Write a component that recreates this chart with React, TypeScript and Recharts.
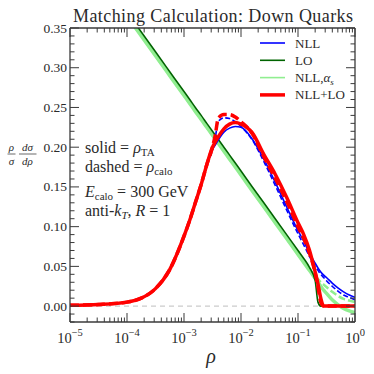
import React from "react";
import { LineChart, Line, XAxis, YAxis, ReferenceLine } from "recharts";

// rho grid (log spaced, denser near the peak and the endpoint)
const rho = [
  0.00001, 0.0000316, 0.0001, 0.000178, 0.000316, 0.000562, 0.001, 0.00126, 0.00158, 0.002,
  0.00251, 0.00316, 0.00355, 0.00398, 0.00501, 0.00631, 0.00794, 0.01, 0.0158, 0.0251,
  0.0398, 0.0631, 0.1, 0.126, 0.158, 0.2, 0.224, 0.251, 0.282, 0.316,
  0.398, 0.501, 0.631, 0.794, 1,
];

const nllSolid = [
  0.001, 0.002, 0.005, 0.01, 0.022, 0.046, 0.088, 0.108, 0.13, 0.153,
  0.177, 0.197, 0.203, 0.209, 0.219, 0.224, 0.226, 0.225, 0.21, 0.185,
  0.156, 0.125, 0.095, 0.082, 0.067, 0.054, 0.048, 0.043, 0.039, 0.036,
  0.029, 0.023, 0.018, 0.014, 0.011,
];
const nllDashed = [
  0.001, 0.002, 0.005, 0.01, 0.022, 0.046, 0.088, 0.108, 0.13, 0.153,
  0.177, 0.197, 0.213, 0.232, 0.237, 0.236, 0.232, 0.226, 0.209, 0.182,
  0.152, 0.121, 0.091, 0.077, 0.063, 0.05, 0.045, 0.04, 0.036, 0.032,
  0.025, 0.019, 0.014, 0.011, 0.008,
];
const loSolid = [
  0.47, 0.42, 0.37, 0.345, 0.32, 0.295, 0.27, 0.26, 0.25, 0.24,
  0.23, 0.22, 0.215, 0.21, 0.2, 0.19, 0.18, 0.17, 0.15, 0.13,
  0.11, 0.09, 0.07, 0.06, 0.049, 0.032, 0.005, 0, 0, 0,
  0, 0, 0, 0, 0,
];
const nllAsSolid = [
  0.465, 0.415, 0.365, 0.34, 0.315, 0.29, 0.265, 0.255, 0.245, 0.235,
  0.225, 0.215, 0.21, 0.205, 0.195, 0.185, 0.175, 0.165, 0.145, 0.125,
  0.105, 0.085, 0.065, 0.055, 0.045, 0.035, 0.03, 0.025, 0.02, 0.016,
  0.008, 0.002, -0.003, -0.006, -0.008,
];
const nllAsDashed = [
  0.465, 0.415, 0.365, 0.34, 0.315, 0.29, 0.265, 0.255, 0.245, 0.235,
  0.225, 0.215, 0.21, 0.205, 0.195, 0.185, 0.175, 0.165, 0.145, 0.125,
  0.105, 0.085, 0.065, 0.055, 0.046, 0.038, 0.034, 0.03, 0.027, 0.024,
  0.018, 0.013, 0.009, 0.007, 0.005,
];
const matchedSolid = [
  0.001, 0.002, 0.005, 0.01, 0.022, 0.046, 0.088, 0.108, 0.13, 0.153,
  0.178, 0.2, 0.207, 0.213, 0.223, 0.229, 0.231, 0.229, 0.218, 0.191,
  0.166, 0.137, 0.105, 0.09, 0.071, 0.043, 0.028, 0.01, 0, 0,
  0, 0, 0, 0, 0,
];
const matchedDashed = [
  0.001, 0.002, 0.005, 0.01, 0.022, 0.046, 0.088, 0.108, 0.13, 0.153,
  0.178, 0.2, 0.216, 0.236, 0.241, 0.241, 0.238, 0.232, 0.217, 0.188,
  0.161, 0.132, 0.1, 0.085, 0.067, 0.042, 0.024, 0.005, 0, 0,
  0, 0, 0, 0, 0,
];

const xMajorTicks = [0.00001, 0.0001, 0.001, 0.01, 0.1, 1];
const xTickExponents = ["\u22125", "\u22124", "\u22123", "\u22122", "\u22121", "0"];
const yMajorTicks = [0, 0.05, 0.1, 0.15, 0.2, 0.25, 0.3, 0.35];

const data = rho.map((r, i) => ({
  rho: r,
  nllSolid: nllSolid[i],
  nllDashed: nllDashed[i],
  loSolid: loSolid[i],
  nllAsSolid: nllAsSolid[i],
  nllAsDashed: nllAsDashed[i],
  matchedSolid: matchedSolid[i],
  matchedDashed: matchedDashed[i],
}));

const xTicks: number[] = [];
xMajorTicks.forEach((d, i) => {
  xTicks.push(d);
  if (i < xMajorTicks.length - 1) for (let k = 2; k <= 9; k++) xTicks.push(k * d);
});
const yTicks: number[] = [];
for (let i = -2; i <= 35; i++) yTicks.push(i / 100);

const AXIS = "#3a3a3a";
const TEXT = "#2a2a2a";
const FONT = "'Liberation Serif', 'DejaVu Serif', serif";

const isXMajor = (v: number) => xMajorTicks.some((m) => Math.abs(v / m - 1) < 1e-6);
const isYMajor = (v: number) => yMajorTicks.some((m) => Math.abs(v - m) < 1e-6);

function XTick(props: any) {
  const { x, y, payload, side } = props;
  const v = payload.value;
  const major = isXMajor(v);
  const len = major ? 9 : 4.5;
  const dir = side === "bottom" ? -1 : 1;
  const idx = xMajorTicks.findIndex((m) => Math.abs(v / m - 1) < 1e-6);
  return (
    <g>
      <line x1={x} y1={y} x2={x} y2={y + dir * len} stroke={AXIS} strokeWidth={1} />
      {side === "bottom" && major && (
        <text x={x} y={y + 21} textAnchor="middle" fontFamily={FONT} fontSize={14.5} fill={TEXT}>
          10
          <tspan dy={-7} fontSize={10.5}>
            {xTickExponents[idx]}
          </tspan>
        </text>
      )}
    </g>
  );
}

function YTick(props: any) {
  const { x, y, payload, side } = props;
  const v = payload.value;
  const major = isYMajor(v);
  const len = major ? 9 : 4.5;
  const dir = side === "left" ? 1 : -1;
  return (
    <g>
      <line x1={x} y1={y} x2={x + dir * len} y2={y} stroke={AXIS} strokeWidth={1} />
      {side === "left" && major && (
        <text x={x - 3} y={y + 4.5} textAnchor="end" fontFamily={FONT} fontSize={13.5} fill={TEXT}>
          {v.toFixed(2)}
        </text>
      )}
    </g>
  );
}

const legendItems = [
  { label: "NLL", color: "#0000ff", width: 1.6 },
  { label: "LO", color: "#006400", width: 1.6 },
  { label: "NLL,", color: "#90ee90", width: 1.6, alpha: true },
  { label: "NLL+LO", color: "#ff0000", width: 3.5 },
];

export default function App() {
  return (
    <div style={{ position: "absolute", left: 0, top: 0, width: 374, height: 374, background: "#fff" }}>
      <LineChart
        width={374}
        height={374}
        data={data}
        margin={{ top: 18, right: 9, bottom: 22, left: 30 }}
      >
        <XAxis
          dataKey="rho"
          type="number"
          scale="log"
          domain={[0.00001, 1]}
          allowDataOverflow
          ticks={xTicks}
          interval={0}
          height={30}
          tickSize={0}
          tickMargin={0}
          tickLine={false}
          axisLine={{ stroke: AXIS, strokeWidth: 1.3 }}
          tick={(p: any) => <XTick {...p} side="bottom" />}
        />
        <XAxis
          xAxisId="top"
          orientation="top"
          dataKey="rho"
          type="number"
          scale="log"
          domain={[0.00001, 1]}
          allowDataOverflow
          ticks={xTicks}
          interval={0}
          height={10}
          tickSize={0}
          tickMargin={0}
          tickLine={false}
          axisLine={{ stroke: AXIS, strokeWidth: 1.3 }}
          tick={(p: any) => <XTick {...p} side="top" />}
        />
        <YAxis
          type="number"
          domain={[-0.02, 0.35]}
          allowDataOverflow
          ticks={yTicks}
          interval={0}
          width={40}
          tickSize={0}
          tickMargin={0}
          tickLine={false}
          axisLine={{ stroke: AXIS, strokeWidth: 1.3 }}
          tick={(p: any) => <YTick {...p} side="left" />}
        />
        <YAxis
          yAxisId="right"
          orientation="right"
          type="number"
          domain={[-0.02, 0.35]}
          allowDataOverflow
          ticks={yTicks}
          interval={0}
          width={10}
          tickSize={0}
          tickMargin={0}
          tickLine={false}
          axisLine={{ stroke: AXIS, strokeWidth: 1.3 }}
          tick={(p: any) => <YTick {...p} side="right" />}
        />
        <ReferenceLine y={0} stroke="#cccccc" strokeWidth={1.2} strokeDasharray="5 4" />
        <Line dataKey="nllAsDashed" type="monotone" stroke="#90ee90" strokeWidth={2.5} strokeDasharray="7 3" dot={false} isAnimationActive={false} />
        <Line dataKey="nllAsSolid" type="monotone" stroke="#90ee90" strokeWidth={3.5} dot={false} isAnimationActive={false} />
        <Line dataKey="loSolid" type="monotone" stroke="#006400" strokeWidth={1.6} dot={false} isAnimationActive={false} />
        <Line dataKey="nllDashed" type="monotone" stroke="#0000ff" strokeWidth={1.6} strokeDasharray="5 2.5" dot={false} isAnimationActive={false} />
        <Line dataKey="nllSolid" type="monotone" stroke="#0000ff" strokeWidth={1.6} dot={false} isAnimationActive={false} />
        <Line dataKey="matchedDashed" type="monotone" stroke="#ff0000" strokeWidth={3.5} strokeDasharray="9 4" dot={false} isAnimationActive={false} />
        <Line dataKey="matchedSolid" type="monotone" stroke="#ff0000" strokeWidth={3.5} dot={false} isAnimationActive={false} />
      </LineChart>
      <svg
        width={374}
        height={374}
        style={{ position: "absolute", left: 0, top: 0, pointerEvents: "none" }}
        fontFamily={FONT}
        fill={TEXT}
      >
        <text x={213} y={22} textAnchor="middle" fontSize={18} textLength={280} lengthAdjust="spacing">
          Matching Calculation: Down Quarks
        </text>
        {legendItems.map((it, i) => {
          const cy = 43 + i * 17.3;
          return (
            <g key={it.label}>
              <line x1={260} x2={285} y1={cy} y2={cy} stroke={it.color} strokeWidth={it.width} />
              <text x={295} y={cy + 4.5} fontSize={13}>
                {it.label}
                {it.alpha && (
                  <>
                    <tspan fontStyle="italic">α</tspan>
                    <tspan fontStyle="italic" fontSize={9} dy={3}>s</tspan>
                  </>
                )}
              </text>
            </g>
          );
        })}
        {/* y label: rho/sigma dsigma/drho */}
        <g fontStyle="italic" fontSize={11} textAnchor="middle">
          <text x={11.5} y={150.5}>ρ</text>
          <text x={11.5} y={165}>σ</text>
          <line x1={7.5} x2={15.5} y1={154} y2={154} stroke={TEXT} strokeWidth={0.7} />
          <text x={27.5} y={150.5}>dσ</text>
          <text x={27.5} y={165}>dρ</text>
          <line x1={19} x2={36.5} y1={154} y2={154} stroke={TEXT} strokeWidth={0.7} />
        </g>
        <g fontSize={16}>
          <text x={85} y={153}>
            solid = <tspan fontStyle="italic">ρ</tspan>
            <tspan fontSize={11} dy={3}>TA</tspan>
          </text>
          <text x={85} y={172}>
            dashed = <tspan fontStyle="italic">ρ</tspan>
            <tspan fontSize={11} dy={3}>calo</tspan>
          </text>
          <text x={85} y={197}>
            <tspan fontStyle="italic">E</tspan>
            <tspan fontSize={11} dy={3}>calo</tspan>
            <tspan dy={-3}> = 300 GeV</tspan>
          </text>
          <text x={85} y={216}>
            anti-<tspan fontStyle="italic">k</tspan>
            <tspan fontStyle="italic" fontSize={11} dy={3}>T</tspan>
            <tspan dy={-3}>, </tspan>
            <tspan fontStyle="italic">R</tspan> = 1
          </text>
        </g>
        <text x={211} y={363} textAnchor="middle" fontStyle="italic" fontSize={20}>
          ρ
        </text>
      </svg>
    </div>
  );
}
